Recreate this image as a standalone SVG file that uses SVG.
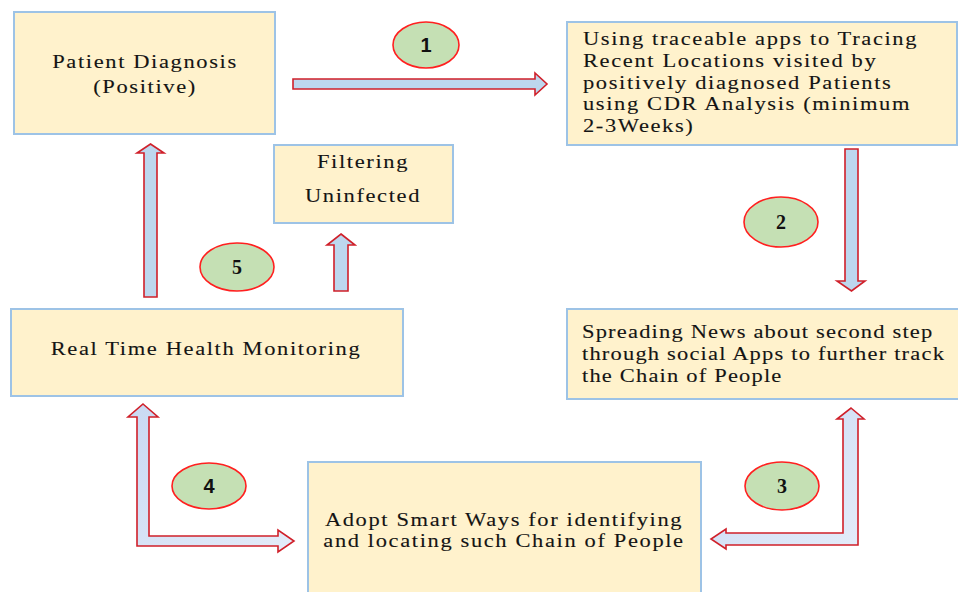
<svg xmlns="http://www.w3.org/2000/svg" width="958" height="592" viewBox="0 0 958 592">
<defs>
<style>
.box{fill:#FFF2CC;stroke:#9DC3E6;stroke-width:2}
.t{font-family:"Liberation Serif","Times New Roman",serif;font-size:18px;fill:#141414;letter-spacing:1.3px;stroke:#141414;stroke-width:0.1}
.s{letter-spacing:0.95px}
.c{text-anchor:middle}
.arr{fill:#BDD7EE;stroke:#D0202A;stroke-width:1.6;stroke-linejoin:miter}
.larr{fill:url(#lg);stroke:#D0202A;stroke-width:1.6}
.ell{fill:#C5E0B4;stroke:#FF2020;stroke-width:1.6}
.n{font-size:20px;font-weight:bold;fill:#111;text-anchor:middle}
.ns{font-family:"Liberation Sans",Arial,sans-serif}
.nf{font-family:"Liberation Serif","Times New Roman",serif}
</style>
<linearGradient id="lg" x1="0" y1="0" x2="1" y2="1">
<stop offset="0" stop-color="#C9D9F3"/>
<stop offset="1" stop-color="#E4ECF9"/>
</linearGradient>
</defs>
<rect width="958" height="592" fill="#fff"/>

<g id="connectors">
<polygon class="arr" points="293,79 535,79 535,73 547,84 535,95 535,89 293,89"/>
<polygon class="arr" points="845,149 858,149 858,281 865,281 851.5,291 837,281 845,281"/>
<polygon class="larr" points="851,408 864,419 858,419 858,545 726,545 726,549 711,539 726,529 726,533 843,533 843,419 837,419"/>
<polygon class="larr" points="143,404 158,417 149,417 149,536 278,536 278,530 294,541 278,552 278,546 137,546 137,417 128,417"/>
<polygon class="arr" points="150.5,144 164,153 157,153 157,297 144,297 144,153 137,153"/>
<polygon class="arr" points="341,234 355,245 348,245 348,291 334,291 334,245 327,245"/>
</g>

<g id="node-patient">
<rect class="box" x="14" y="12" width="261" height="122"/>
<text class="t c" transform="matrix(1.25 0 0 1 145 68)">Patient Diagnosis</text>
<text class="t c" transform="matrix(1.25 0 0 1 145 93)">(Positive)</text>
</g>

<g id="node-tracing">
<rect class="box" x="567" y="22" width="390" height="123"/>
<text class="t" transform="matrix(1.25 0 0 1 583 45)">Using traceable apps to Tracing</text>
<text class="t" transform="matrix(1.25 0 0 1 583 67)">Recent Locations visited by</text>
<text class="t" transform="matrix(1.25 0 0 1 583 89)">positively diagnosed Patients</text>
<text class="t" transform="matrix(1.25 0 0 1 583 110)">using CDR Analysis (minimum</text>
<text class="t" transform="matrix(1.25 0 0 1 583 132)">2-3Weeks)</text>
</g>

<g id="node-spreading">
<rect class="box" x="567" y="309" width="400" height="90"/>
<text class="t s" transform="matrix(1.25 0 0 1 582 338)">Spreading News about second step</text>
<text class="t s" transform="matrix(1.25 0 0 1 582 360)">through social Apps to further track</text>
<text class="t s" transform="matrix(1.25 0 0 1 582 382)">the Chain of People</text>
</g>

<g id="node-adopt">
<rect class="box" x="308" y="462" width="393" height="140"/>
<text class="t c" transform="matrix(1.25 0 0 1 504 526)">Adopt Smart Ways for identifying</text>
<text class="t c" transform="matrix(1.25 0 0 1 504 547)">and locating such Chain of People</text>
</g>

<g id="node-monitoring">
<rect class="box" x="11" y="309" width="392" height="87"/>
<text class="t c" transform="matrix(1.25 0 0 1 206 355)">Real Time Health Monitoring</text>
</g>

<g id="node-filtering">
<rect class="box" x="274" y="145" width="179" height="78"/>
<text class="t c" transform="matrix(1.25 0 0 1 363 168)">Filtering</text>
<text class="t c" transform="matrix(1.25 0 0 1 363 202)">Uninfected</text>
</g>

<g id="label-1"><ellipse class="ell" cx="426" cy="45" rx="33" ry="23"/><text class="n ns" x="426" y="52">1</text></g>
<g id="label-2"><ellipse class="ell" cx="781" cy="222" rx="37" ry="25"/><text class="n nf" x="781" y="229">2</text></g>
<g id="label-3"><ellipse class="ell" cx="782" cy="486" rx="37" ry="24"/><text class="n nf" x="782" y="493">3</text></g>
<g id="label-4"><ellipse class="ell" cx="209" cy="486" rx="37" ry="23"/><text class="n ns" x="209" y="493">4</text></g>
<g id="label-5"><ellipse class="ell" cx="237" cy="267" rx="37" ry="24"/><text class="n nf" x="237" y="274">5</text></g>
</svg>
